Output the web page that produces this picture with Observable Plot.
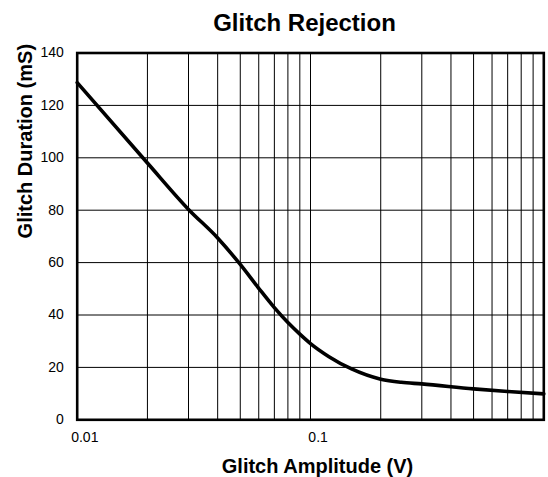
<!DOCTYPE html>
<html>
<head>
<meta charset="utf-8">
<script src="https://cdn.jsdelivr.net/npm/d3@7"></script>
<script src="https://cdn.jsdelivr.net/npm/@observablehq/plot@0.6"></script>
<style>
  html, body { margin: 0; padding: 0; background: #fff; }
  svg { display: block; }
</style>
</head>
<body>
<div id="chart"></div>
<script>
// Data
const amplitude = [0.01, 0.02, 0.03, 0.04, 0.05, 0.06, 0.07, 0.08, 0.09, 0.1, 0.12, 0.15, 0.2, 0.245, 0.3, 0.5, 0.7, 1];
const duration  = [128.7, 98, 80.3, 69.4, 59.3, 50.2, 42.8, 37.1, 32.7, 29.1, 24.1, 19.4, 15.5, 14.3, 13.7, 11.8, 10.8, 9.9];

const xTicks = [0.01, 0.1, 1];
const xTickLabels = ["0.01", "0.1", "1"];
const xGrid = [0.02, 0.03, 0.04, 0.05, 0.06, 0.07, 0.08, 0.09, 0.1, 0.2, 0.3, 0.4, 0.5, 0.6, 0.7, 0.8, 0.9];
const yTicks = [0, 20, 40, 60, 80, 100, 120, 140];
const yGrid = [20, 40, 60, 80, 100, 120];

const title = "Glitch Rejection";
const xLabel = "Glitch Amplitude (V)";
const yLabel = "Glitch Duration (mS)";

const data = amplitude.map((a, i) => ({a, d: duration[i]}));

const chart = Plot.plot({
  width: 548,
  height: 477,
  marginLeft: 76.7,
  marginRight: 4.7,
  marginTop: 52.5,
  marginBottom: 57.7,
  style: {fontFamily: "'Liberation Sans', Arial, sans-serif", background: "#fff", color: "#000"},
  x: {type: "log", domain: [0.01, 1]},
  y: {domain: [0, 140]},
  marks: [
    Plot.ruleX(xGrid, {stroke: "#000", strokeWidth: 1}),
    Plot.ruleY(yGrid, {stroke: "#000", strokeWidth: 1}),
    Plot.line(data, {x: "a", y: "d", stroke: "#000", strokeWidth: 3.6, curve: "monotone-x", strokeLinejoin: "round"}),
    Plot.frame({stroke: "#000", strokeWidth: 2.6}),
    Plot.axisX({ticks: xTicks, tickFormat: (d) => xTickLabels[xTicks.indexOf(d)], tickSize: 0, tickPadding: 12, dx: 7.6, fontSize: 14, label: null}),
    Plot.axisY({ticks: yTicks, tickSize: 0, tickPadding: 13.4, fontSize: 14, label: null}),
    Plot.text([title], {frameAnchor: "top", dx: -6, dy: -22, lineAnchor: "bottom", fontSize: 24, fontWeight: "bold"}),
    Plot.text([xLabel], {frameAnchor: "bottom", dx: 7, dy: 53, lineAnchor: "bottom", fontSize: 20, fontWeight: "bold"}),
    Plot.text([yLabel], {frameAnchor: "left", dx: -45, dy: 2, rotate: -90, lineAnchor: "bottom", fontSize: 20, fontWeight: "bold"})
  ]
});
document.getElementById("chart").appendChild(chart);
</script>
</body>
</html>
